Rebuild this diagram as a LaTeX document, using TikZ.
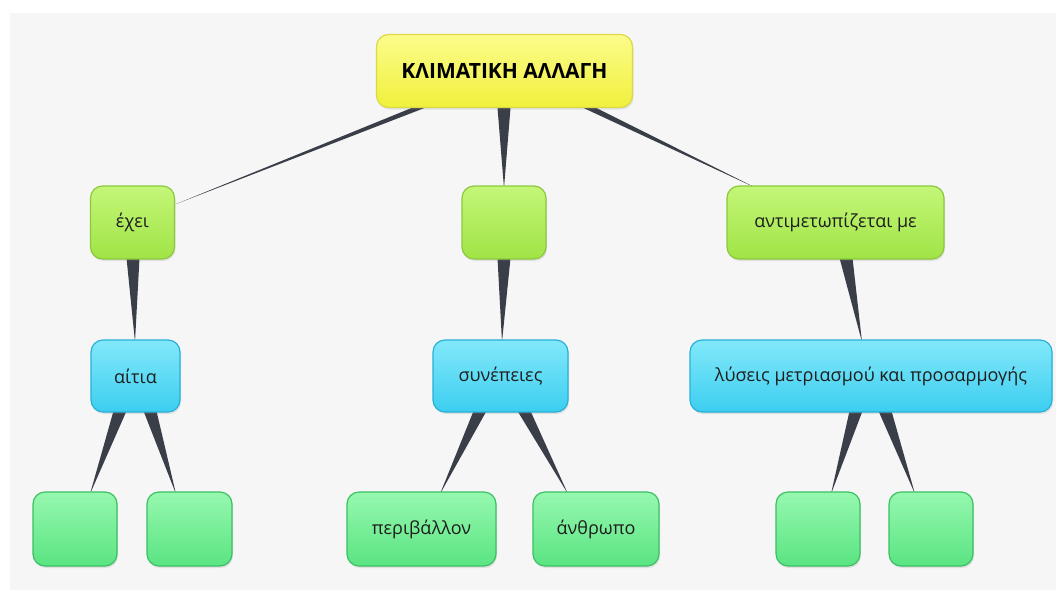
\documentclass[tikz,border=0pt]{standalone}
\usepackage{fontspec}
\setmainfont{Open Sans}
\usetikzlibrary{calc,shadows}

\definecolor{bgdots}{HTML}{F6F6F6}
\definecolor{linkgray}{HTML}{3A3E48}
\definecolor{txtgray}{HTML}{1E1E1E}

\tikzset{
  box/.style={rounded corners=12pt, line width=1.2pt, text=txtgray,
    font=\fontsize{18}{21}\selectfont, minimum height=73pt,
    drop shadow={opacity=0.18, shadow xshift=1pt, shadow yshift=-2pt}},
  yellowbox/.style={box, draw={rgb,255:red,218;green,218;blue,70},
    top color={rgb,255:red,252;green,252;blue,140}, bottom color={rgb,255:red,240;green,240;blue,60}},
  limebox/.style={box, draw={rgb,255:red,140;green,200;blue,60},
    top color={rgb,255:red,196;green,246;blue,120}, bottom color={rgb,255:red,160;green,228;blue,70}},
  bluebox/.style={box, draw={rgb,255:red,40;green,176;blue,216},
    top color={rgb,255:red,130;green,232;blue,250}, bottom color={rgb,255:red,60;green,206;blue,240}},
  leafbox/.style={box, draw={rgb,255:red,60;green,192;blue,100},
    top color={rgb,255:red,150;green,248;blue,175}, bottom color={rgb,255:red,90;green,228;blue,130}},
  conn/.style={fill=linkgray}
}

% tapered link: wide end at #1, point at #2
\newcommand\taper[2]{%
  \coordinate (tp) at (#1);
  \fill[conn] ([xshift=-6.5pt]tp) -- ([xshift=6.5pt]tp) -- (#2) -- cycle;}

\begin{document}
\begin{tikzpicture}[x=1pt,y=-1pt]
\useasboundingbox (0,0) rectangle (1056,592);
\fill[bgdots] (10,13) rectangle (1056,590);

% links first
\coordinate (t1) at (418,108);
\coordinate (t2) at (504,108);
\coordinate (t3) at (590,108);
\coordinate (e1) at (176,204);
\coordinate (e2) at (504,188);
\coordinate (e3) at (756,188);
\taper{t1}{e1}
\taper{t2}{e2}
\taper{t3}{e3}
\taper{133,258}{135,342}
\taper{504,258}{502,342}
\taper{846,258}{862,342}
\taper{120,411}{90,494}
\taper{150,411}{176,494}
\taper{480,411}{440,494}
\taper{524,411}{568,494}
\taper{856,411}{831,494}
\taper{885,411}{915,494}

% first row
\node[yellowbox, minimum width=256pt, font=\fontsize{21}{24}\selectfont\bfseries, text=black] (climate) at (504.5,71) {ΚΛΙΜΑΤΙΚΗ ΑΛΛΑΓΗ};

% second row
\node[limebox, minimum width=84pt] (exei) at (132.5,222.5) {έχει};
\node[limebox, minimum width=84pt] (mid) at (504,222.5) {};
\node[limebox, minimum width=217pt] (antim) at (835.5,222.5) {αντιμετωπίζεται με};

% third row
\node[bluebox, minimum width=89pt, minimum height=72pt] (aitia) at (135.5,376) {αίτια};
\node[bluebox, minimum width=135pt, minimum height=72pt] (synep) at (500.5,376) {συνέπειες};
\node[bluebox, minimum width=362pt, minimum height=72pt] (lyseis) at (871,376) {λύσεις μετριασμού και προσαρμογής};

% leaves
\node[leafbox, minimum width=84pt, minimum height=74pt] (leafa) at (75,529) {};
\node[leafbox, minimum width=85pt, minimum height=74pt] (leafb) at (189.5,529) {};
\node[leafbox, minimum width=149pt, minimum height=74pt] (perib) at (421.5,529) {περιβάλλον};
\node[leafbox, minimum width=126pt, minimum height=74pt] (anthr) at (596,529) {άνθρωπο};
\node[leafbox, minimum width=84pt, minimum height=74pt] (leafc) at (818,529) {};
\node[leafbox, minimum width=84pt, minimum height=74pt] (leafd) at (931,529) {};
\end{tikzpicture}
\end{document}
